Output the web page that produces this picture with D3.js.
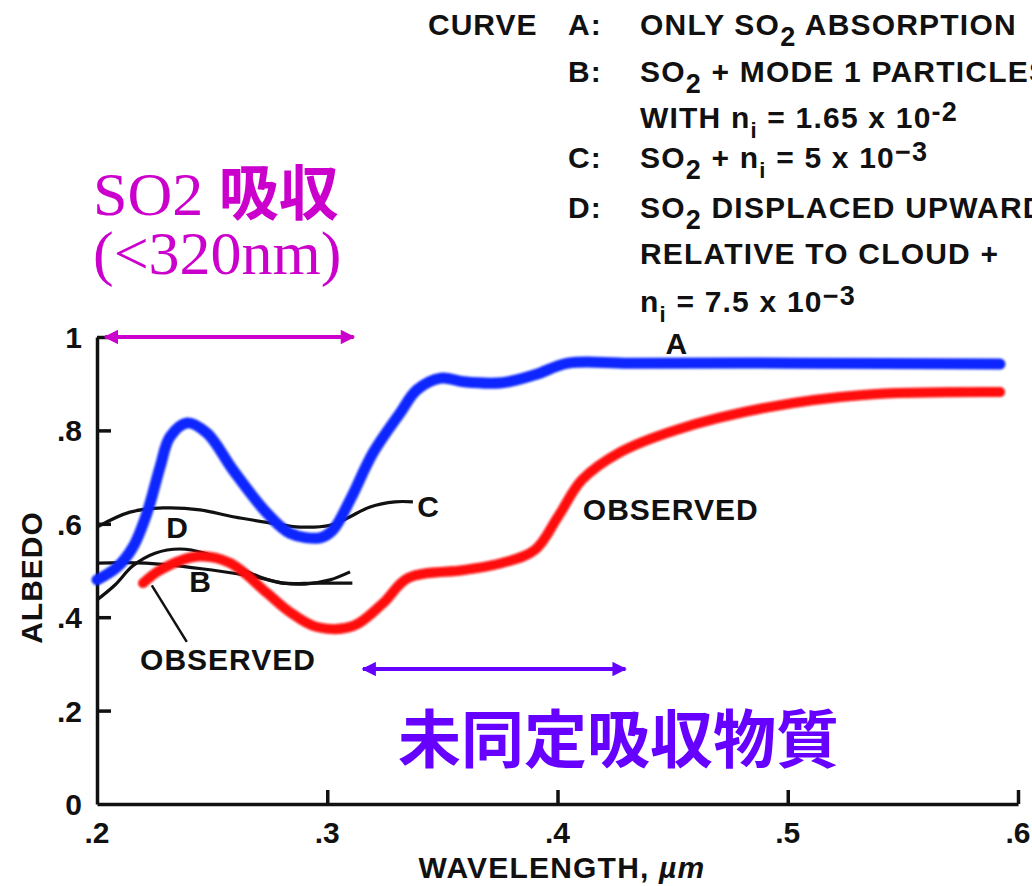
<!DOCTYPE html>
<html>
<head>
<meta charset="utf-8">
<script src="https://cdn.jsdelivr.net/npm/d3@7"></script>
<style>
  html, body { margin: 0; padding: 0; background: #fff; }
  svg { display: block; }
  .lbl { font-family: "Liberation Sans", Arial, sans-serif; font-weight: bold; fill: #111; }
</style>
</head>
<body>
<svg id="chart" width="1032" height="886"></svg>
<script>
// Wavelength (µm) / albedo samples for each curve
const curveA_x = [0.200, 0.2087, 0.2156, 0.2217, 0.2274, 0.2317, 0.2391, 0.2478, 0.2591, 0.2738, 0.2838, 0.2969, 0.3025, 0.3099, 0.3199, 0.3316, 0.3390, 0.3494, 0.3594, 0.3759, 0.3902, 0.4046, 0.4311, 0.5053, 0.5922];
const curveA_y = [0.480, 0.507, 0.550, 0.623, 0.722, 0.786, 0.816, 0.794, 0.715, 0.623, 0.580, 0.570, 0.587, 0.651, 0.752, 0.837, 0.887, 0.912, 0.904, 0.902, 0.919, 0.944, 0.944, 0.944, 0.942];

const observed_x = [0.220, 0.2274, 0.2434, 0.2578, 0.2738, 0.2838, 0.2955, 0.3112, 0.3242, 0.3351, 0.3594, 0.3759, 0.3902, 0.4002, 0.4106, 0.4267, 0.4515, 0.4919, 0.5327, 0.5922];
const observed_y = [0.473, 0.501, 0.530, 0.516, 0.452, 0.411, 0.379, 0.381, 0.430, 0.484, 0.501, 0.516, 0.544, 0.615, 0.694, 0.752, 0.801, 0.850, 0.876, 0.882];

const curveB_x = [0.200, 0.2213, 0.2499, 0.2708, 0.2808, 0.2951, 0.3109];
const curveB_y = [0.516, 0.516, 0.501, 0.484, 0.473, 0.473, 0.473];

const curveC_x = [0.200, 0.2143, 0.2287, 0.2447, 0.2591, 0.2751, 0.2882, 0.3012, 0.3086, 0.3186, 0.3294, 0.3372];
const curveC_y = [0.593, 0.625, 0.634, 0.630, 0.615, 0.602, 0.593, 0.597, 0.612, 0.636, 0.647, 0.647];

const curveD_x = [0.200, 0.2078, 0.2156, 0.2252, 0.2360, 0.2469, 0.2591, 0.2708, 0.2808, 0.2903, 0.3012, 0.3099];
const curveD_y = [0.437, 0.469, 0.510, 0.537, 0.546, 0.537, 0.512, 0.486, 0.473, 0.471, 0.480, 0.497];

const xTicks = [0.2, 0.3, 0.4, 0.5, 0.6];
const xTickLabels = [".2", ".3", ".4", ".5", ".6"];
const yTicks = [0, 0.2, 0.4, 0.6, 0.8, 1];
const yTickLabels = ["0", ".2", ".4", ".6", ".8", "1"];

// SO2 band (<320 nm) and unidentified-absorber band
const so2Band = [0.2035, 0.3115];
const unknownBand = [0.3155, 0.4295];

const zip = (xs, ys) => xs.map((x, i) => [x, ys[i]]);

const svg = d3.select("#chart");
const x = d3.scaleLinear().domain([0.2, 0.6]).range([97, 1018]);
const y = d3.scaleLinear().domain([0, 1]).range([804, 337]);

const defs = svg.append("defs");
defs.append("filter").attr("id", "soft")
  .append("feGaussianBlur").attr("stdDeviation", 0.9);
function arrowHead(id, color) {
  defs.append("marker").attr("id", id)
    .attr("viewBox", "0 0 10 10").attr("refX", 9).attr("refY", 5)
    .attr("markerWidth", 5).attr("markerHeight", 3.6).attr("markerUnits", "strokeWidth")
    .attr("orient", "auto-start-reverse")
    .append("path").attr("d", "M0,0 L10,5 L0,10 z").attr("fill", color);
}
arrowHead("headM", "#cc00cc");
arrowHead("headP", "#6600ff");

// Axes: ticks point into the plot
const yAxis = d3.axisLeft(y).tickValues(yTicks.slice(1))
  .tickSizeInner(-14).tickSizeOuter(0).tickFormat(() => "");
const xAxis = d3.axisBottom(x).tickValues(xTicks.slice(1))
  .tickSizeInner(-14).tickSizeOuter(0).tickFormat(() => "");

svg.append("g").attr("transform", `translate(${x(0.2)},0)`).call(yAxis)
  .call(g => g.selectAll("path,line").attr("stroke", "#111").attr("stroke-width", 3.5));
svg.append("g").attr("transform", `translate(0,${y(0)})`).call(xAxis)
  .call(g => g.selectAll("path,line").attr("stroke", "#111").attr("stroke-width", 3.5));

// Tick labels
svg.append("g").selectAll("text").data(xTicks).join("text")
  .attr("class", "lbl").attr("font-size", 30).attr("text-anchor", "middle")
  .attr("x", d => x(d)).attr("y", y(0) + 39)
  .text((d, i) => xTickLabels[i]);
svg.append("g").selectAll("text").data(yTicks).join("text")
  .attr("class", "lbl").attr("font-size", 30).attr("text-anchor", "end")
  .attr("x", x(0.2) - 15).attr("y", d => y(d) + 11)
  .text((d, i) => yTickLabels[i]);

const xt = svg.append("text").attr("class", "lbl").attr("font-size", 30).attr("text-anchor", "middle")
  .attr("letter-spacing", 1.2).attr("x", 562).attr("y", 878);
xt.append("tspan").text("WAVELENGTH,  ");
xt.append("tspan").attr("font-style", "italic").text("\u00b5m");
svg.append("text").attr("class", "lbl").attr("font-size", 30).attr("text-anchor", "middle")
  .attr("letter-spacing", 1)
  .attr("transform", `translate(42,${y(0.485)}) rotate(-90)`).text("ALBEDO");

// Curves
const line = d3.line().x(d => x(d[0])).y(d => y(d[1])).curve(d3.curveCatmullRom.alpha(0.5));
const plot = svg.append("g");
[[curveC_x, curveC_y], [curveD_x, curveD_y], [curveB_x, curveB_y]].forEach(([xs, ys]) => {
  plot.append("path").attr("d", line(zip(xs, ys)))
    .attr("fill", "none").attr("stroke", "#111").attr("stroke-width", 3.2);
});
plot.append("path").attr("d", line(zip(curveA_x, curveA_y)))
  .attr("fill", "none").attr("stroke", "#111").attr("stroke-width", 3);
plot.append("path").attr("d", line(zip(curveA_x, curveA_y)))
  .attr("fill", "none").attr("stroke", "#0a28ff").attr("stroke-width", 11)
  .attr("stroke-linecap", "round").attr("stroke-linejoin", "round").attr("filter", "url(#soft)");
plot.append("path").attr("d", line(zip(observed_x, observed_y)))
  .attr("fill", "none").attr("stroke", "#ff0808").attr("stroke-width", 10)
  .attr("stroke-linecap", "round").attr("stroke-linejoin", "round").attr("filter", "url(#soft)");

// Curve labels
const curveLabels = [
  { t: "A", px: 0.4518, py: 0.964 },
  { t: "B", px: 0.2450, py: 0.453 },
  { t: "C", px: 0.3440, py: 0.615 },
  { t: "D", px: 0.2350, py: 0.570 },
  { t: "OBSERVED", px: 0.4110, py: 0.609, anchor: "start" },
  { t: "OBSERVED", px: 0.2569, py: 0.287 }
];
svg.append("g").selectAll("text").data(curveLabels).join("text")
  .attr("class", "lbl").attr("font-size", 30).attr("letter-spacing", 1)
  .attr("text-anchor", d => d.anchor || "middle")
  .attr("x", d => x(d.px)).attr("y", d => y(d.py)).text(d => d.t);
// leader from the left OBSERVED label to the red curve
svg.append("line")
  .attr("x1", x(0.2238)).attr("y1", y(0.468)).attr("x2", x(0.2390)).attr("y2", y(0.347))
  .attr("stroke", "#111").attr("stroke-width", 2.5);

// Band arrows and annotations
svg.append("line").attr("x1", x(so2Band[0])).attr("x2", x(so2Band[1]))
  .attr("y1", y(1.0)).attr("y2", y(1.0))
  .attr("stroke", "#cc00cc").attr("stroke-width", 4)
  .attr("marker-start", "url(#headM)").attr("marker-end", "url(#headM)");
svg.append("line").attr("x1", x(unknownBand[0])).attr("x2", x(unknownBand[1]))
  .attr("y1", y(0.289)).attr("y2", y(0.289))
  .attr("stroke", "#6600ff").attr("stroke-width", 4)
  .attr("marker-start", "url(#headP)").attr("marker-end", "url(#headP)");

const so2 = svg.append("text").attr("x", 93).attr("y", 215).attr("fill", "#cc00cc").attr("font-size", 62);
so2.append("tspan").attr("font-family", "Liberation Serif, serif").text("SO2 ");
so2.append("tspan").attr("font-family", "Noto Sans CJK JP").attr("font-weight", "bold").attr("font-size", 60).text("吸収");
svg.append("text").attr("x", 93).attr("y", 274).attr("fill", "#cc00cc").attr("font-size", 62)
  .attr("font-family", "Liberation Serif, serif").text("(<320nm)");

svg.append("text").attr("x", 398).attr("y", 762).attr("fill", "#6600ff").attr("font-size", 63)
  .attr("font-family", "Noto Sans CJK JP").attr("font-weight", "bold").text("未同定吸収物質");

// Legend block: each part is [text, kind] where kind shifts the baseline
const legendRows = [
  { key: "CURVE", tag: "A:", parts: [["ONLY SO"], ["2", "sub"], [" ABSORPTION"]], yy: 35 },
  { tag: "B:", parts: [["SO"], ["2", "sub"], [" + MODE 1 PARTICLES"]], yy: 82 },
  { parts: [["WITH n"], ["i", "subi"], [" = 1.65 x 10"], ["-2", "sup"]], yy: 128 },
  { tag: "C:", parts: [["SO"], ["2", "sub"], [" + n"], ["i", "subi"], [" = 5 x 10"], ["\u22123", "sup"]], yy: 168 },
  { tag: "D:", parts: [["SO"], ["2", "sub"], [" DISPLACED UPWARD"]], yy: 218 },
  { parts: [["RELATIVE TO CLOUD +"]], yy: 264 },
  { parts: [["n"], ["i", "subi"], [" = 7.5 x 10"], ["\u22123", "sup"]], yy: 312 }
];
const shift = { sub: 11, subi: 10, sup: -7 };
const sizes = { sub: 27, subi: 22, sup: 27 };
const leg = svg.append("g");
legendRows.forEach(r => {
  if (r.key) leg.append("text").attr("class", "lbl").attr("font-size", 30).attr("letter-spacing", 1)
    .attr("x", 428).attr("y", r.yy).text(r.key);
  if (r.tag) leg.append("text").attr("class", "lbl").attr("font-size", 30).attr("letter-spacing", 1)
    .attr("x", 568).attr("y", r.yy).text(r.tag);
  const t = leg.append("text").attr("class", "lbl").attr("font-size", 30).attr("letter-spacing", 1.2)
    .attr("x", 640).attr("y", r.yy);
  let cur = 0;
  r.parts.forEach(p => {
    const target = p[1] ? shift[p[1]] : 0;
    const s = t.append("tspan").attr("dy", target - cur).text(p[0]);
    if (p[1]) s.attr("font-size", sizes[p[1]]);
    cur = target;
  });
});
</script>
</body>
</html>
